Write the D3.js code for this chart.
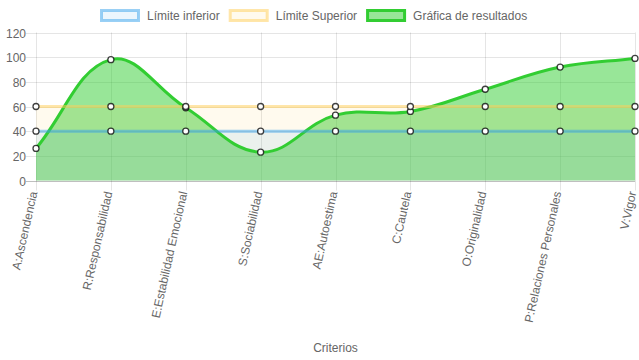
<!DOCTYPE html>
<html><head><meta charset="utf-8">
<script src="https://cdn.jsdelivr.net/npm/d3@7"></script>
<style>html,body{margin:0;padding:0;background:#fff;}svg{display:block;}</style>
</head><body><svg id="c" width="639" height="360"></svg>
<script>
const categories = ["A:Ascendencia","R:Responsabilidad","E:Estabilidad Emocional","S:Sociabilidad","AE:Autoestima","C:Cautela","O:Originalidad","P:Relaciones Personales","V:Vigor"];
const limiteInferior = [40,40,40,40,40,40,40,40,40];
const limiteSuperior = [60,60,60,60,60,60,60,60,60];
const resultados = [26,98,59,23,53,56,74,92,99];
const yTicks = [0,20,40,60,80,100,120];
const seriesNames = ["Límite inferior","Límite Superior","Gráfica de resultados"];

(function(){
const svg = d3.select("#c");
const FONT = "'Liberation Sans', Arial, sans-serif";
const TXT = "#666";
const pLeft = 36, pRight = 635, pTop = 32.5, pBottom = 180.5;
const x = d3.scalePoint().domain(categories).range([pLeft, pRight]);
const y = d3.scaleLinear().domain([0,120]).range([pBottom, pTop]);

const series = [
  {name: seriesNames[0], data: limiteInferior, line: "rgba(54,162,235,0.5)", fill: "rgba(54,162,235,0.1)", w: 3, tension: 0},
  {name: seriesNames[1], data: limiteSuperior, line: "rgba(255,205,86,0.5)", fill: "rgba(255,205,86,0.1)", w: 3, tension: 0},
  {name: seriesNames[2], data: resultados, line: "#32cd32", fill: "rgba(50,205,50,0.5)", w: 3, tension: 0.4}
];

const g = svg.append("g");
yTicks.forEach(t => {
  const yy = Math.round(y(t)) + 0.5;
  g.append("line").attr("x1", pLeft - 10).attr("x2", pRight).attr("y1", yy).attr("y2", yy)
    .attr("stroke", t === 0 ? "rgba(0,0,0,0.25)" : "rgba(0,0,0,0.1)").attr("stroke-width", 1);
  g.append("text").attr("x", pLeft - 10).attr("y", yy).attr("text-anchor", "end")
    .attr("dominant-baseline", "central").attr("font-family", FONT).attr("font-size", 12)
    .attr("fill", TXT).text(t);
});
categories.forEach(c => {
  const xx = Math.round(x(c)) + 0.5;
  g.append("line").attr("x1", xx).attr("x2", xx).attr("y1", pTop).attr("y2", pBottom + 10)
    .attr("stroke", "rgba(0,0,0,0.1)").attr("stroke-width", 1);
  g.append("text").attr("transform", `translate(${xx - 3},${pBottom + 11}) rotate(-77.5)`)
    .attr("text-anchor", "end").attr("dominant-baseline", "central")
    .attr("font-family", FONT).attr("font-size", 12).attr("fill", TXT).text(c);
});

function pathFor(data, tension) {
  const pts = data.map((v, i) => ({x: x(categories[i]), y: y(v)}));
  pts.forEach((p, i) => {
    const prev = pts[i-1] || p, next = pts[i+1] || p;
    const d01 = Math.hypot(p.x - prev.x, p.y - prev.y);
    const d12 = Math.hypot(next.x - p.x, next.y - p.y);
    let s01 = d01 / (d01 + d12), s12 = d12 / (d01 + d12);
    if (!isFinite(s01)) s01 = 0; if (!isFinite(s12)) s12 = 0;
    const fa = tension * s01, fb = tension * s12;
    p.cpx1 = p.x - fa * (next.x - prev.x); p.cpy1 = p.y - fa * (next.y - prev.y);
    p.cpx2 = p.x + fb * (next.x - prev.x); p.cpy2 = p.y + fb * (next.y - prev.y);
    p.cpy1 = Math.max(pTop, Math.min(pBottom, p.cpy1));
    p.cpy2 = Math.max(pTop, Math.min(pBottom, p.cpy2));
  });
  const pa = d3.path();
  pa.moveTo(pts[0].x, pts[0].y);
  for (let i = 1; i < pts.length; i++) {
    pa.bezierCurveTo(pts[i-1].cpx2, pts[i-1].cpy2, pts[i].cpx1, pts[i].cpy1, pts[i].x, pts[i].y);
  }
  return {line: pa.toString(), pts};
}

const drawOrder = [2, 1, 0];
const paths = series.map(s => pathFor(s.data, s.tension));
drawOrder.forEach(i => {
  const p = paths[i];
  const area = p.line + `L${p.pts[p.pts.length-1].x},${y(0)}L${p.pts[0].x},${y(0)}Z`;
  svg.append("path").attr("d", area).attr("fill", series[i].fill);
});
drawOrder.forEach(i => {
  const p = paths[i];
  svg.append("path").attr("d", p.line).attr("fill", "none").attr("stroke", series[i].line)
    .attr("stroke-width", series[i].w);
  svg.append("g").selectAll("circle").data(series[i].data).join("circle")
    .attr("cx", (d, j) => x(categories[j])).attr("cy", d => y(d)).attr("r", 3)
    .attr("fill", "#fff").attr("stroke", "rgba(0,0,0,0.75)").attr("stroke-width", 1.3);
});

svg.append("text").attr("x", (pLeft + pRight) / 2).attr("y", 348).attr("text-anchor", "middle")
  .attr("dominant-baseline", "central").attr("font-family", FONT).attr("font-size", 12)
  .attr("fill", TXT).text("Criterios");

const leg = svg.append("g");
const items = series.map(s => {
  const t = leg.append("text").attr("font-family", FONT).attr("font-size", 12).attr("fill", TXT)
    .attr("dominant-baseline", "central").text(s.name);
  return {s, t, w: t.node().getComputedTextLength()};
});
const widths = items.map(it => 40 + 6 + it.w);
let cx = 100;
items.forEach((it, i) => {
  leg.insert("rect", "text").attr("x", cx + 1.5).attr("y", 10.5).attr("width", 37).attr("height", 10)
    .attr("fill", it.s.fill).attr("stroke", it.s.line).attr("stroke-width", 3);
  it.t.attr("x", cx + 47).attr("y", 15.5);
  cx += widths[i] + 10;
});
})();
</script></body></html>
